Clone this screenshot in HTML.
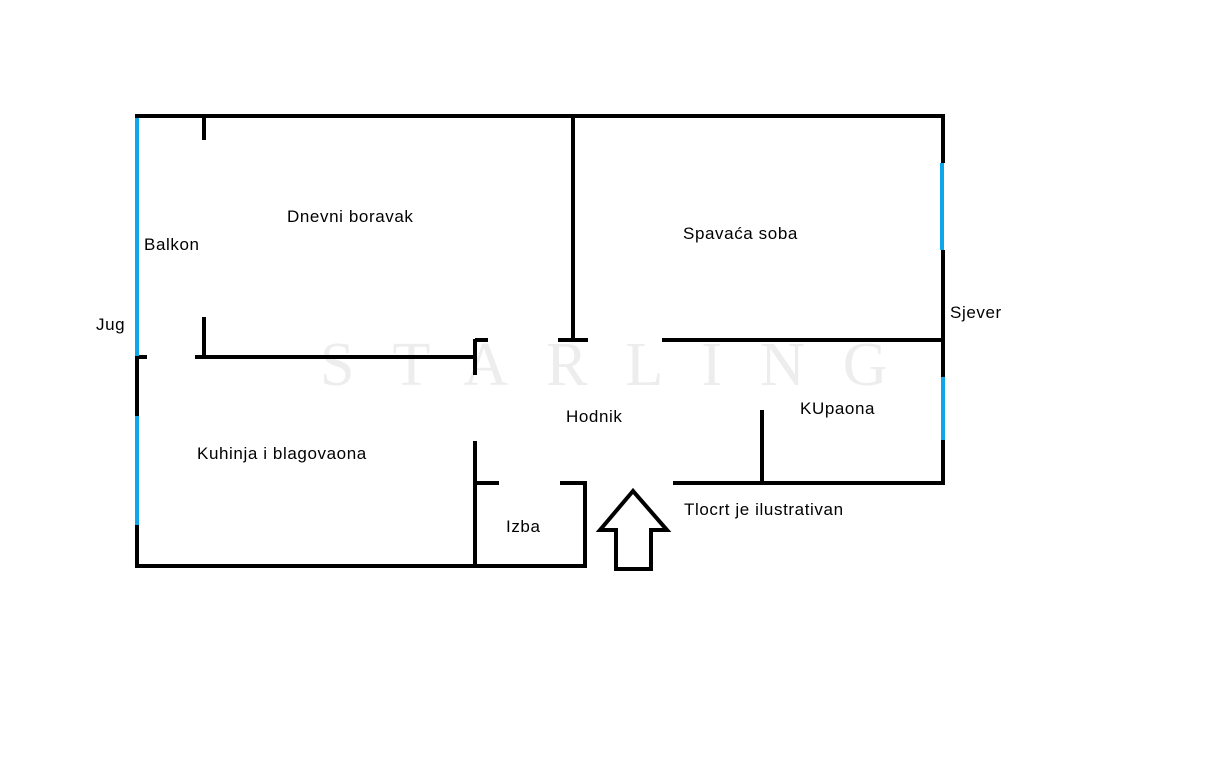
<!DOCTYPE html>
<html><head><meta charset="utf-8"><style>
body{margin:0;background:#fff;width:1232px;height:759px;overflow:hidden}
svg text{font-family:"Liberation Sans",sans-serif;font-size:17px;letter-spacing:0.6px;fill:#000}
</style></head><body>
<svg width="1232" height="759" xmlns="http://www.w3.org/2000/svg">
<text x="320" y="385" style="font-family:'Liberation Serif',serif;font-size:62px;fill:#ededed;letter-spacing:38px">STARLING</text>
<g stroke="#000" stroke-width="4" fill="none">
<line x1="135" y1="116" x2="945" y2="116"/>
<line x1="137" y1="356" x2="137" y2="416"/>
<line x1="137" y1="525" x2="137" y2="568"/>
<line x1="135" y1="357" x2="147" y2="357"/>
<line x1="204" y1="116" x2="204" y2="140"/>
<line x1="204" y1="317" x2="204" y2="357"/>
<line x1="195" y1="357" x2="475" y2="357"/>
<line x1="475" y1="339" x2="475" y2="375"/>
<line x1="475" y1="340" x2="488" y2="340"/>
<line x1="573" y1="116" x2="573" y2="340"/>
<line x1="558" y1="340" x2="588" y2="340"/>
<line x1="662" y1="340" x2="945" y2="340"/>
<line x1="943" y1="116" x2="943" y2="163"/>
<line x1="943" y1="250" x2="943" y2="377"/>
<line x1="943" y1="440" x2="943" y2="485"/>
<line x1="762" y1="410" x2="762" y2="483"/>
<line x1="673" y1="483" x2="945" y2="483"/>
<line x1="475" y1="441" x2="475" y2="567"/>
<line x1="475" y1="483" x2="499" y2="483"/>
<line x1="560" y1="483" x2="587" y2="483"/>
<line x1="585" y1="483" x2="585" y2="567"/>
<line x1="135" y1="566" x2="587" y2="566"/>
<polygon points="633,491 600,530 616,530 616,569 651,569 651,530 667,530" stroke-width="4"/>
</g>
<g stroke="#0ea5e9" stroke-width="4">
<line x1="137" y1="118" x2="137" y2="356"/>
<line x1="137" y1="416" x2="137" y2="525"/>
<line x1="942" y1="163" x2="942" y2="250"/>
<line x1="943" y1="377" x2="943" y2="440"/>
</g>
<text x="96" y="330">Jug</text>
<text x="950" y="318">Sjever</text>
<text x="144" y="250">Balkon</text>
<text x="287" y="222">Dnevni boravak</text>
<text x="683" y="239">Spavaća soba</text>
<text x="197" y="459">Kuhinja i blagovaona</text>
<text x="566" y="422">Hodnik</text>
<text x="800" y="414">KUpaona</text>
<text x="506" y="532">Izba</text>
<text x="684" y="515">Tlocrt je ilustrativan</text>
</svg>
</body></html>
